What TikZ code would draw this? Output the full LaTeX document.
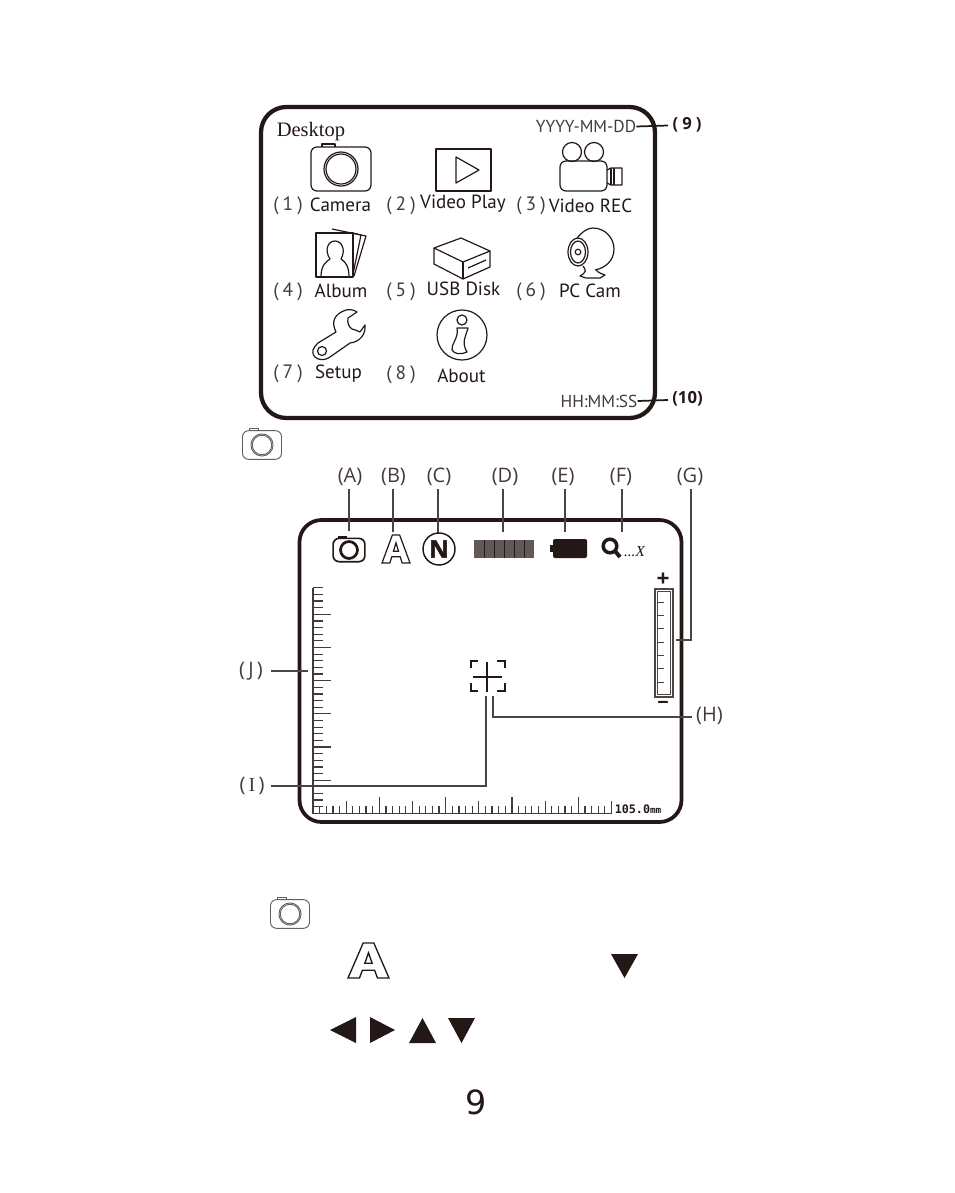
\documentclass[tikz,border=0pt]{standalone}
\usepackage{fontspec}
\setmainfont{PT Sans}
\newfontfamily\tagface{Open Sans}
\newfontfamily\heavyface[FakeBold=2]{Open Sans}
\newfontfamily\serifface{Liberation Serif}
\newfontfamily\pageface{DejaVu Sans}
\newfontfamily\monoface{DejaVu Sans Mono}
\newcommand{\fsz}[1]{\fontsize{#1}{#1}\selectfont}
\newcommand{\plab}[1]{(\hspace{3pt}#1\hspace{3pt})}
\definecolor{ink}{HTML}{231815}
\definecolor{leader}{HTML}{4A4442}
\tikzset{
  lbl/.style={inner sep=0pt,text=ink,font=\fsz{14.3}},
  num/.style={inner sep=0pt,text=ink!85,font=\fsz{14.5}},
  tag/.style={inner sep=0pt,text=ink!85,font=\tagface\fsz{15}},
  clk/.style={inner sep=0pt,text=ink!85,font=\fsz{13}},
  icon/.style={draw=ink,line width=0.9pt,line join=round},
  lead/.style={draw=leader,line width=0.95pt},
  tri/.style={fill=ink,draw=none},
  pics/camicon/.style={code={
    \draw[rounded corners=4.5pt] (-30,-22) rectangle (30,22);
    \draw (-19,-22) -- (-19,-25) -- (-6,-25) -- (-6,-22);
    \draw (0,0) circle [radius=17];
    \draw (0,0) circle [radius=15];
  }},
  pics/aicon/.style={code={
    \draw[line join=miter] (0,100) -- (37,0) -- (63,0) -- (100,100) -- (72,100) -- (65,78) -- (35,78) -- (28,100) -- cycle;
    \draw[line join=miter] (41,58) -- (59,58) -- (50,28) -- cycle;
  }},
}
\begin{document}
\begin{tikzpicture}[x=0.75pt,y=-0.75pt]
\useasboundingbox (0,0) rectangle (954,1193);

% ---------- first panel ----------
\node[draw=ink,line width=3.2pt,outer sep=0pt,rounded corners=19pt,minimum width=295.5pt,minimum height=233.25pt,inner sep=0pt] (desk) at (458,262.5) {};
\node[inner sep=0pt,text=ink,font=\serifface\fsz{15.4}] (desktoptxt) at (311,131.5) {Desktop};
\node[clk] (date) at (586,126.5) {YYYY-MM-DD};
\node[clk] (time) at (599,401) {HH:MM:SS};
\node[inner sep=0pt,text=ink,font=\tagface\bfseries\fsz{12.5}] (n9) at (687,125) {\plab{9}};
\node[inner sep=0pt,text=ink,font=\tagface\bfseries\fsz{12.5}] (n10) at (687.5,399) {(10)};
\coordinate (e9) at (668,125.5);
\coordinate (e10) at (668,400);
\draw[draw=ink,line width=1.3pt] (date.east) -- (e9);
\draw[draw=ink,line width=1.3pt] (time.east) -- (e10);

\node[num] (n1) at (288,206) {\plab{1}};
\node[lbl] (camtxt) at (340.5,205) {Camera};
\node[num] (n2) at (401,206) {\plab{2}};
\node[lbl] (playtxt) at (463,204) {Video Play};
\node[num] (n3) at (531,206) {\plab{3}};
\node[lbl] (rectxt) at (590.5,205.5) {Video REC};
\node[num] (n4) at (288,292) {\plab{4}};
\node[lbl] (albtxt) at (341,291) {Album};
\node[num] (n5) at (401,292) {\plab{5}};
\node[lbl] (usbtxt) at (463.5,289) {USB Disk};
\node[num] (n6) at (531,292) {\plab{6}};
\node[lbl] (pctxt) at (590,291) {PC Cam};
\node[num] (n7) at (288,374) {\plab{7}};
\node[lbl] (settxt) at (338.5,374) {Setup};
\node[num] (n8) at (401,375) {\plab{8}};
\node[lbl] (abtxt) at (461.5,376) {About};

% icons of the desktop
\pic[icon] at (341,169) {camicon};
\draw[icon] (436,149) rectangle (491,191);
\draw[icon] (456,157) -- (456,183) -- (479,170) -- cycle;
% video camera
\draw[icon] (572,152) circle [radius=9.5];
\draw[icon] (594,152) circle [radius=9.5];
\draw[icon,rounded corners=4.5pt] (560,161) rectangle (607,191);
\draw[icon] (607,170) -- (611,168) -- (622,168) -- (622,185) -- (611,185) -- (607,183);
\draw[icon] (611,168) -- (611,185) (614,168) -- (614,185);
% album
\draw[icon] (332,229) -- (366,236) -- (354,276);
\draw[icon] (353,233) -- (361,235) -- (353,274);
\draw[icon] (316,233) rectangle (353,277);
\draw[icon] (321,277) .. controls (321,265) and (326,262) .. (330,259) .. controls (324,250) and (328,241) .. (335,241) .. controls (342,241) and (346,250) .. (341,259) .. controls (346,262) and (349,267) .. (349,277);
% USB box
\draw[icon] (434,248) -- (461,238) -- (490,251) -- (463,262) -- cycle;
\draw[icon] (434,248) -- (434,264) -- (463,279) -- (490,267) -- (490,251);
\draw[icon] (463,262) -- (463,279);
\draw[icon] (468,268) -- (486,260);
% web cam
\draw[icon] (577,238) .. controls (583,231) and (588,228) .. (593,228) .. controls (605,228) and (614,238) .. (614,249) .. controls (614,261) and (605,268) .. (595,270);
\draw[icon] (578,252) ellipse [x radius=10,y radius=14];
\draw[icon] (578,252) ellipse [x radius=7.5,y radius=11];
\draw[icon] (578,252) circle [radius=2.8];
\draw[icon] (583,266) .. controls (586,270) and (587,272) .. (580,276) -- (586,278) -- (600,278) -- (605,275) .. controls (599,273) and (596,271) .. (596,269);
% wrench
\draw[icon] (318,343) -- (336,332) .. controls (331,322) and (334,314) .. (346,310) .. controls (350,309) and (354,310) .. (357,312) -- (348,318) .. controls (347,323) and (349,327) .. (352,329) .. controls (356,330) and (358,331) .. (360,332) -- (365,325) .. controls (366,334) and (360,342) .. (350,343) -- (330,357) .. controls (322,363) and (311,358) .. (313,350) .. controls (314,347) and (316,345) .. (318,343) -- cycle;
\draw[icon] (322,351) circle [radius=4.5];
% info
\draw[icon] (462,335) circle [radius=25];
\draw[icon] (462,320) circle [radius=5];
\draw[icon] (457,328) -- (468,328) .. controls (466,336) and (461,342) .. (467,352) .. controls (461,355) and (454,354) .. (452,350) .. controls (451,344) and (459,338) .. (457,328) -- cycle;

% small camera
\pic[draw=ink!70,line width=0.7pt,scale=0.65] at (262,445) {camicon};

% ---------- second panel ----------
\node[draw=ink,line width=2.8pt,outer sep=0pt,rounded corners=16.5pt,minimum width=286.5pt,minimum height=226.5pt,inner sep=0pt] (lcd) at (490.5,671) {};

\node[tag] (la) at (350,477) {(A)};
\node[tag] (lb) at (393.5,477) {(B)};
\node[tag] (lc) at (439,477) {(C)};
\node[tag] (ld) at (505,477) {(D)};
\node[tag] (le) at (563,477) {(E)};
\node[tag] (lf) at (621,477) {(F)};
\node[tag] (lg) at (690,477) {(G)};
\node[tag] (lh) at (709.5,716) {(H)};
\node[tag] (li) at (252,785.5) {(\hspace{2.4pt}{\serifface I}\hspace{2.4pt})};
\node[tag] (lj) at (251,671) {(\hspace{2.4pt}J\hspace{2.4pt})};

\coordinate (ta) at (349,531);
\coordinate (tb) at (393,532);
\coordinate (tc) at (438,533);
\coordinate (td) at (503,532);
\coordinate (te) at (565,532);
\coordinate (tf) at (622,532);
\coordinate (tg) at (676,640);
\coordinate (th) at (493,696);
\coordinate (ti) at (486,696);
\coordinate (tj) at (308,671);
\coordinate (sa) at (349,489);
\coordinate (sb) at (393,489);
\coordinate (sc) at (438,489);
\coordinate (sd) at (503,489);
\coordinate (se) at (565,489);
\coordinate (sf) at (622,489);
\coordinate (sg) at (691,489);
\coordinate (sh) at (692,717);
\coordinate (si) at (271,786);
\coordinate (sj) at (271,671);
\foreach \k in {a,b,c,d,e,f}{\draw[lead] (s\k) -- (t\k);}
\draw[lead] (sg) |- (tg);
\draw[lead] (sh) -| (th);
\draw[lead] (si) -| (ti);
\draw[lead] (sj) -- (tj);

% status icons
\pic[draw=ink,line width=1.25pt,scale=0.53] at (349,550) {camicon};
\pic[icon,scale=0.28,line width=0.9pt] at (382,535) {aicon};
\draw[ink,line width=1.1pt] (439,549) circle [radius=16];
\node[inner sep=0pt,text=ink,font=\heavyface\bfseries\fsz{18}] (ntxt) at (439,549) {N};
\fill[ink!72] (474,540) rectangle (534,558);
\foreach \i in {484,494,504,514,524}{\draw[ink,line width=0.6pt] (\i,540) -- (\i,558);}
\fill[ink,rounded corners=1.5pt] (553,539) rectangle (587,558);
\fill[ink] (550,545) rectangle (554,552);
\draw[ink,line width=2.6pt] (610,546) circle [radius=6.8];
\draw[ink,line width=3pt] (615,551) -- (620,557);
\node[inner sep=0pt,text=ink,font=\serifface\itshape\fsz{11.5}] (zoomtxt) at (634.5,552) {...X};

% zoom gauge
\node[inner sep=0pt,text=ink,font=\tagface\bfseries\fsz{17}] (plus) at (663,580) {+};
\node[inner sep=0pt,text=ink,font=\tagface\bfseries\fsz{15}] (minus) at (663,705) {−};
\draw[ink!80,line width=0.8pt] (655,589) rectangle (673,697);
\draw[ink!80,line width=0.8pt] (657.5,591.5) rectangle (670.5,694.5);
\foreach \i in {0,...,6}{\draw[ink!80,line width=0.7pt] (657.5,602+13.33*\i) -- (663.5,602+13.33*\i);}

% rulers
\draw[ink!85,line width=0.9pt] (313,587.8) -- (313,813.3) -- (612,813.3);
\foreach \i in {0,...,33}{
  \pgfmathtruncatemacro{\r}{mod(\i,5)}
  \ifnum\r=4
    \draw[ink!85,line width=0.9pt] (313,587.8+6.633*\i) -- (331,587.8+6.633*\i);
  \else
    \draw[ink!85,line width=0.9pt] (313,587.8+6.633*\i) -- (322.5,587.8+6.633*\i);
  \fi
}
\foreach \i in {1,...,45}{
  \pgfmathtruncatemacro{\r}{mod(\i,10)}
  \pgfmathtruncatemacro{\q}{mod(\i,5)}
  \ifnum\r=0
    \draw[ink!85,line width=0.9pt] (313+6.633*\i,813.3) -- (313+6.633*\i,797);
  \else\ifnum\q=0
    \draw[ink!85,line width=0.9pt] (313+6.633*\i,813.3) -- (313+6.633*\i,801);
  \else
    \draw[ink!85,line width=0.9pt] (313+6.633*\i,813.3) -- (313+6.633*\i,805.5);
  \fi\fi
}
\node[inner sep=0pt,anchor=base west,text=ink,font=\monoface\bfseries\fsz{8.8}] (scale) at (614.5,813) {105.0\fsz{7}mm};

% focus mark
\draw[ink,line width=1.5pt] (470.7,668) -- (470.7,661) -- (478,661);
\draw[ink,line width=1.5pt] (497,661) -- (504.7,661) -- (504.7,668);
\draw[ink,line width=1.5pt] (470.7,683) -- (470.7,690.5) -- (478,690.5);
\draw[ink,line width=1.5pt] (497,690.5) -- (504.7,690.5) -- (504.7,683);
\draw[ink,line width=1.3pt] (487.3,662) -- (487.3,692);
\draw[ink,line width=1.3pt] (472.7,677.3) -- (501.7,677.3);

% ---------- third part ----------
\pic[draw=ink!70,line width=0.7pt,scale=0.65] at (290,914) {camicon};
\pic[icon,xscale=0.41,yscale=0.35,line width=1pt] at (348,943) {aicon};
\fill[tri] (611,954) -- (638,954) -- (624.5,978) -- cycle;
\fill[tri] (356,1017) -- (356,1043) -- (330,1030) -- cycle;
\fill[tri] (370,1017) -- (370,1043) -- (395,1030) -- cycle;
\fill[tri] (409,1043) -- (436,1043) -- (422.5,1018) -- cycle;
\fill[tri] (448,1018) -- (475,1018) -- (461.5,1043) -- cycle;
\node[inner sep=0pt,text=ink,font=\pageface\fsz{25}] (page) at (476,1102) {9};
\end{tikzpicture}
\end{document}
